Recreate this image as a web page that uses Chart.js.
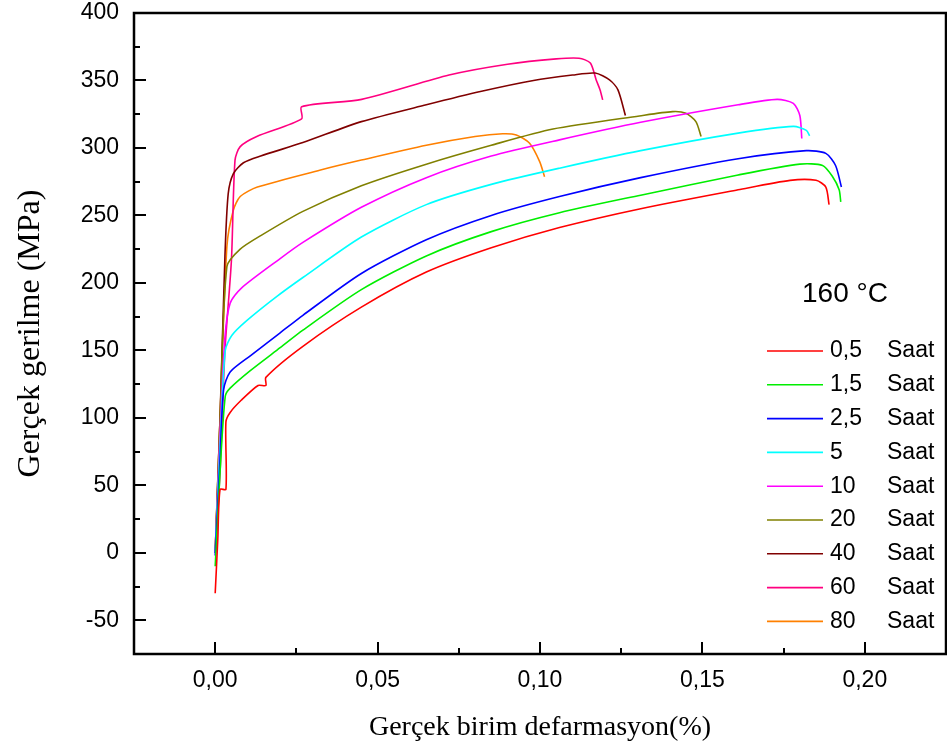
<!DOCTYPE html>
<html>
<head>
<meta charset="utf-8">
<script src="https://cdn.jsdelivr.net/npm/chart.js@4.4.1/dist/chart.umd.min.js"></script>
<style>
body { margin: 0; background: #fff; }
#wrap { width: 947px; height: 753px; }
</style>
</head>
<body>
<div id="wrap"><canvas id="canvas" width="947" height="753"></canvas></div>
<script>
// aging time at 160 °C, one curve per time
var hours = ['0,5', '1,5', '2,5', '5', '10', '20', '40', '60', '80'];
var colors = ['#FF0000', '#00EE00', '#0000FF', '#00FFFF', '#FF00FF', '#808000', '#800000', '#FF0080', '#FF8000'];

var strain05 = [0, 0.0008, 0.0015, 0.0033, 0.0033, 0.0046, 0.008, 0.0132, 0.0156, 0.0156, 0.027, 0.045, 0.065, 0.085, 0.106, 0.131, 0.161, 0.177, 0.185, 0.188, 0.189];
var stress05 = [-30, 10, 47, 47, 97, 104, 113, 124, 124, 130, 153, 182, 208, 226, 241, 255, 269, 276, 276, 271, 258];

var strain15 = [0, 0.0015, 0.0031, 0.0046, 0.0108, 0.02, 0.027, 0.045, 0.065, 0.085, 0.106, 0.131, 0.161, 0.18, 0.187, 0.19, 0.1921, 0.1926];
var stress15 = [-10, 60, 116, 122, 135, 152, 165, 195, 220, 238, 252, 265, 280, 288, 287, 279, 269, 260];

var strain25 = [0, 0.0015, 0.0026, 0.0046, 0.0108, 0.02, 0.027, 0.045, 0.065, 0.085, 0.106, 0.131, 0.161, 0.182, 0.188, 0.191, 0.1928];
var stress25 = [-2, 70, 121, 134, 146, 163, 176, 207, 232, 250, 264, 278, 292, 298, 296, 287, 271];

var strain5 = [0, 0.0015, 0.0031, 0.0051, 0.0097, 0.019, 0.027, 0.045, 0.065, 0.085, 0.106, 0.131, 0.161, 0.178, 0.182, 0.183];
var stress5 = [0, 80, 150, 161, 172, 190, 204, 234, 258, 273, 285, 298, 311, 316, 313, 309];

var strain10 = [0, 0.0015, 0.003, 0.0046, 0.008, 0.02, 0.027, 0.045, 0.065, 0.085, 0.106, 0.131, 0.161, 0.173, 0.178, 0.18, 0.1806];
var stress10 = [0, 90, 160, 185, 196, 218, 230, 256, 278, 294, 306, 319, 332, 336, 333, 324, 307];

var strain20 = [0, 0.0015, 0.0036, 0.0077, 0.014, 0.027, 0.045, 0.065, 0.085, 0.104, 0.1306, 0.1408, 0.1449, 0.148, 0.1496];
var stress20 = [0, 100, 212, 225, 235, 253, 272, 288, 302, 314, 323.7, 326.9, 325.7, 319.5, 308.4];

var strain40 = [0, 0.0015, 0.003, 0.004, 0.0056, 0.0087, 0.014, 0.027, 0.045, 0.065, 0.082, 0.098, 0.11, 0.117, 0.1214, 0.124, 0.1263];
var stress40 = [0, 100, 220, 266, 281, 289, 294, 304, 319.5, 332, 342, 350, 354, 355.5, 350.4, 343, 324];

var strain60 = [0, 0.0015, 0.003, 0.005, 0.0061, 0.0077, 0.0128, 0.0266, 0.0266, 0.0451, 0.072, 0.09, 0.105, 0.112, 0.1155, 0.1173, 0.1185, 0.1193];
var stress60 = [0, 60, 150, 217, 291, 301, 308.5, 321.5, 330.6, 336, 354, 362, 366, 366.5, 363, 350.4, 343, 335.6];

var strain80 = [0, 0.0015, 0.0036, 0.0056, 0.0077, 0.013, 0.033, 0.045, 0.065, 0.08, 0.0885, 0.0927, 0.0968, 0.0999, 0.1014];
var stress80 = [0, 100, 227, 254, 264, 271, 284, 291, 302, 308.5, 310.5, 309.6, 303.5, 289.9, 278.7];

var xTicks = [0, 0.05, 0.10, 0.15, 0.20];
var yTicks = [-50, 0, 50, 100, 150, 200, 250, 300, 350, 400];
var tempLabel = '160 °C';

var strains = [strain05, strain15, strain25, strain5, strain10, strain20, strain40, strain60, strain80];
var stresses = [stress05, stress15, stress25, stress5, stress10, stress20, stress40, stress60, stress80];

function toPoints(xs, ys) {
    return xs.map(function(x, i) { return {x: x, y: ys[i]}; });
}

var datasets = hours.map(function(h, i) {
    return {
        label: h,
        data: toPoints(strains[i], stresses[i]),
        borderColor: colors[i],
        backgroundColor: colors[i],
        borderWidth: 1.6,
        pointRadius: 0,
        showLine: true,
        tension: 0.25,
        fill: false
    };
});

var sansFont = '"Liberation Sans", Arial, sans-serif';
var serifFont = '"Liberation Serif", "Times New Roman", serif';

// frame + inward major/minor ticks like the original plot
var framePlugin = {
    id: 'frame',
    afterDraw: function(chart) {
        var ctx = chart.ctx, a = chart.chartArea;
        var sx = chart.scales.x, sy = chart.scales.y;
        ctx.save();
        ctx.strokeStyle = '#000';
        ctx.lineWidth = 2;
        ctx.beginPath();
        xTicks.forEach(function(v) {
            var p = Math.round(sx.getPixelForValue(v));
            ctx.moveTo(p, a.bottom); ctx.lineTo(p, a.bottom - 12);
            var m = Math.round(sx.getPixelForValue(v + 0.025));
            if (m < a.right - 2) { ctx.moveTo(m, a.bottom); ctx.lineTo(m, a.bottom - 6); }
        });
        yTicks.forEach(function(v) {
            var p = Math.round(sy.getPixelForValue(v));
            ctx.moveTo(a.left, p); ctx.lineTo(a.left + 12, p);
            var m = Math.round(sy.getPixelForValue(v - 25));
            if (m < a.bottom - 2) { ctx.moveTo(a.left, m); ctx.lineTo(a.left + 6, m); }
        });
        ctx.stroke();
        ctx.lineWidth = 2.5;
        ctx.strokeRect(a.left, a.top, a.right - a.left, a.bottom - a.top);
        ctx.restore();
    }
};

// legend box inside the plot, lower right
var legendPlugin = {
    id: 'innerLegend',
    afterDraw: function(chart) {
        var ctx = chart.ctx, a = chart.chartArea;
        ctx.save();
        ctx.fillStyle = '#000';
        ctx.textBaseline = 'middle';
        ctx.textAlign = 'center';
        ctx.font = '28px ' + sansFont;
        ctx.fillText(tempLabel, a.right - 101, a.top + 281);
        ctx.font = '23px ' + sansFont;
        ctx.textAlign = 'left';
        chart.data.datasets.forEach(function(ds, i) {
            var y = a.top + 338 + i * 33.8;
            ctx.strokeStyle = ds.borderColor;
            ctx.lineWidth = 1.6;
            ctx.beginPath();
            ctx.moveTo(a.right - 179, y);
            ctx.lineTo(a.right - 123, y);
            ctx.stroke();
            ctx.fillText(ds.label, a.right - 116, y);
            ctx.fillText('Saat', a.right - 59, y);
        });
        ctx.restore();
    }
};

var config = {
    type: 'scatter',
    data: { datasets: datasets },
    options: {
        responsive: false,
        animation: false,
        layout: { padding: { left: 0, right: 1, top: 13, bottom: 0 } },
        plugins: {
            legend: { display: false },
            tooltip: { enabled: false }
        },
        scales: {
            x: {
                type: 'linear',
                min: -0.025,
                max: 0.225,
                afterFit: function(s) { s.height = 99; s.paddingLeft = 0; s.paddingRight = 0; },
                afterBuildTicks: function(s) { s.ticks = xTicks.map(function(v) { return {value: v}; }); },
                grid: { display: false, drawTicks: false },
                border: { display: false },
                ticks: {
                    color: '#000',
                    padding: 13,
                    font: { family: sansFont, size: 23 },
                    callback: function(v) { return v.toFixed(2).replace('.', ','); }
                },
                title: {
                    display: true,
                    text: 'Gerçek birim defarmasyon(%)',
                    color: '#000',
                    font: { family: serifFont, size: 28 },
                    padding: { top: 0, bottom: 9 }
                }
            },
            y: {
                type: 'linear',
                min: -75,
                max: 400,
                afterFit: function(s) { s.width = 134; s.paddingTop = 0; s.paddingBottom = 0; },
                afterBuildTicks: function(s) { s.ticks = yTicks.map(function(v) { return {value: v}; }); },
                grid: { display: false, drawTicks: false },
                border: { display: false },
                ticks: {
                    color: '#000',
                    padding: 15,
                    font: { family: sansFont, size: 23 }
                },
                title: {
                    display: true,
                    text: 'Gerçek gerilme (MPa)',
                    color: '#000',
                    font: { family: serifFont, size: 32 },
                    padding: { top: 11, bottom: 0 }
                }
            }
        }
    },
    plugins: [framePlugin, legendPlugin]
};

window.onload = function() {
    window.myChart = new Chart(document.getElementById('canvas'), config);
};
</script>
</body>
</html>
